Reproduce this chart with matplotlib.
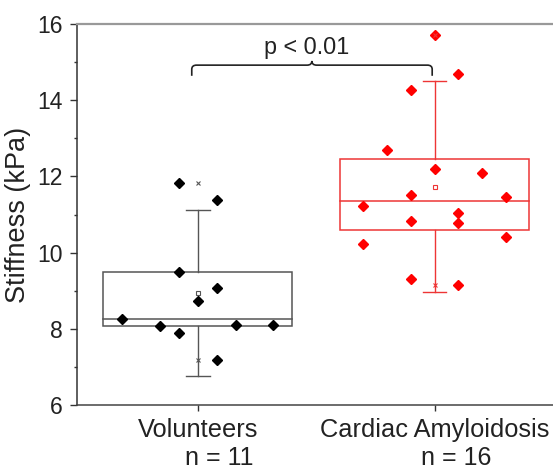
import matplotlib
matplotlib.use("Agg")
import matplotlib.pyplot as plt
from matplotlib.path import Path
from matplotlib.patches import PathPatch, Rectangle

plt.rcParams['font.family'] = ['Liberation Sans', 'DejaVu Sans']

# ---- data ----
categories = ["Volunteers", "Cardiac Amyloidosis"]
n_labels = ["n = 11", "n = 16"]

vol_values = [11.83, 11.37, 9.50, 9.08, 8.73, 8.27, 8.07, 7.90, 8.11, 8.09, 7.19]
vol_slots = [-1, 1, -1, 1, 0, -4, -2, -1, 2, 4, 1]     # jitter slot of each point

ca_values = [15.70, 14.70, 14.26, 12.70, 12.20, 12.10, 11.52, 11.47, 11.23,
             11.05, 10.84, 10.78, 10.40, 10.22, 9.31, 9.15]
ca_slots = [0, 1, -1, -2, 0, 2, -1, 3, -3, 1, -1, 1, 3, -3, -1, 1]

# box statistics (as drawn in the reference)
q1 = [8.08, 10.59]
median = [8.27, 11.36]
q3 = [9.48, 12.45]
whisk_lo = [6.76, 8.96]
whisk_hi = [11.12, 14.51]
means = [8.93, 11.73]
mins = [7.19, 9.15]
maxs = [11.84, 15.70]

p_text = "p < 0.01"

# ---- figure ----
fig = plt.figure(figsize=(5.53, 4.70), dpi=100)
ax = fig.add_axes([0.139, 0.138, 0.861, 0.811])

colors = ['#555555', '#ee3535']
pt_colors = ['black', 'red']
slot_w = [0.08, 0.10]
groups = [(vol_values, vol_slots), (ca_values, ca_slots)]
box_w = 0.8
cap_w = 0.10

for i, (vals, slots) in enumerate(groups):
    x = i + 1
    c = colors[i]
    # box
    ax.add_patch(Rectangle((x - box_w / 2, q1[i]), box_w, q3[i] - q1[i],
                           fill=False, edgecolor=c, linewidth=1.1, zorder=2))
    ax.plot([x - box_w / 2, x + box_w / 2], [median[i], median[i]], color=c, lw=1.1, zorder=2)
    # whiskers
    ax.plot([x, x], [q3[i], whisk_hi[i]], color=c, lw=1.0, zorder=2)
    ax.plot([x, x], [q1[i], whisk_lo[i]], color=c, lw=1.0, zorder=2)
    ax.plot([x - cap_w / 2, x + cap_w / 2], [whisk_hi[i], whisk_hi[i]], color=c, lw=1.0, zorder=2)
    ax.plot([x - cap_w / 2, x + cap_w / 2], [whisk_lo[i], whisk_lo[i]], color=c, lw=1.0, zorder=2)
    # mean and min/max markers
    ax.plot([x], [means[i]], marker='s', ms=3.2, mfc='white', mec=c, mew=0.8, zorder=4)
    ax.plot([x, x], [mins[i], maxs[i]], linestyle='none', marker='x', ms=3.2,
            mec=c, mew=0.8, zorder=4)
    # points
    xs = [x + s * slot_w[i] for s in slots]
    ax.plot(xs, vals, linestyle='none', marker='D', ms=5.6, color=pt_colors[i],
            mec=pt_colors[i], zorder=3)

# significance brace
xa, xb, xm = 0.975, 1.99, 1.482
yb, ytip, ypk = 14.92, 14.64, 15.03
dx, dy = 0.02, 0.11
verts = [(xa, ytip), (xa, yb - dy), (xa, yb), (xa + dx, yb),
         (xm - dx, yb), (xm, yb), (xm, ypk),
         (xm, yb), (xm + dx, yb),
         (xb - dx, yb), (xb, yb), (xb, yb - dy), (xb, ytip)]
codes = [Path.MOVETO, Path.LINETO, Path.CURVE3, Path.CURVE3,
         Path.LINETO, Path.CURVE3, Path.CURVE3,
         Path.CURVE3, Path.CURVE3,
         Path.LINETO, Path.CURVE3, Path.CURVE3, Path.LINETO]
ax.add_patch(PathPatch(Path(verts, codes), fill=False, edgecolor='#222222', lw=1.2, zorder=3))
ax.text(xm - 0.02, 15.22, p_text, ha='center', va='baseline', fontsize=16.8, color='#222222')

# axes styling
ax.set_xlim(0.49, 2.5)
ax.set_ylim(6, 16)
ax.set_yticks([6, 8, 10, 12, 14, 16])
ax.set_yticks([7, 9, 11, 13, 15], minor=True)
ax.set_xticks([1, 2])
ax.set_xticklabels(categories)
ax.tick_params(axis='y', which='major', direction='out', length=5, width=1.0,
               labelsize=16.5, pad=5, colors='#333333', labelcolor='#222222')
ax.tick_params(axis='y', which='minor', direction='out', length=2.5, width=1.0, colors='#333333')
ax.tick_params(axis='x', direction='out', length=4, width=1.0, labelsize=18.3, pad=5,
               colors='#333333', labelcolor='#222222')
ax.set_ylabel("Stiffness (kPa)", fontsize=19.5, color='#222222', labelpad=5)

for i, lab in enumerate(n_labels):
    ax.text(i + 1 + 0.09, -0.158, lab, transform=ax.get_xaxis_transform(),
            ha='center', va='baseline', fontsize=18, color='#222222')

ax.spines['right'].set_visible(False)
ax.spines['top'].set_color('#999999')
ax.spines['top'].set_linewidth(1.6)
ax.spines['left'].set_color('#333333')
ax.spines['bottom'].set_color('#444444')
ax.spines['left'].set_linewidth(1.1)
ax.spines['bottom'].set_linewidth(1.1)

fig.savefig("out.png", dpi=100)
